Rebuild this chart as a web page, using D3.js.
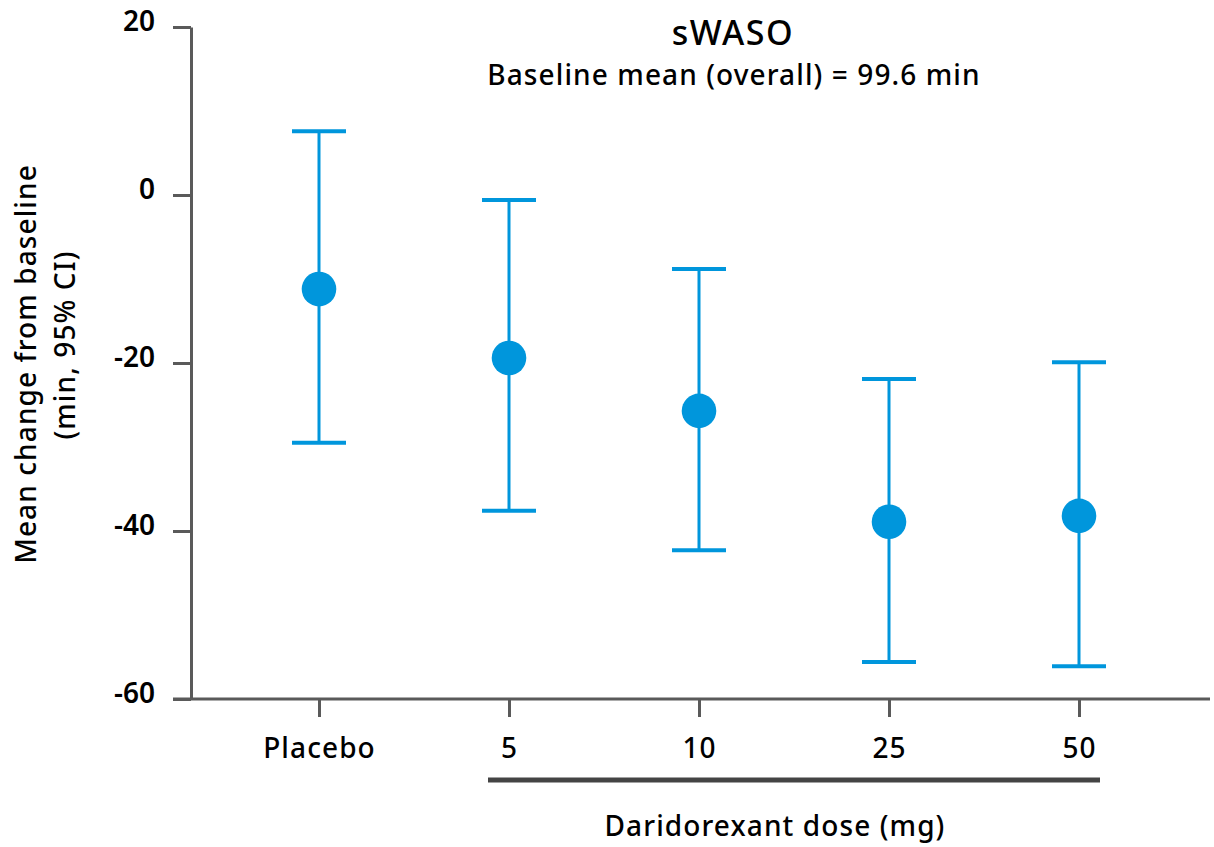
<!DOCTYPE html>
<html>
<head>
<meta charset="utf-8">
<script src="https://cdn.jsdelivr.net/npm/d3@7"></script>
<style>
  body { margin: 0; background: #fff; }
  text { font-family: "Noto Sans", "Open Sans", sans-serif; font-weight: 500; fill: #000; }
</style>
</head>
<body>
<div id="chart"></div>
<script>
const categories = ["Placebo", "5", "10", "25", "50"];
const means = [-11.2, -19.4, -25.7, -38.9, -38.2];
const lower = [-29.5, -37.6, -42.3, -55.6, -56.1];
const upper = [7.6, -0.6, -8.8, -21.9, -19.9];
const yTicks = [20, 0, -20, -40, -60];

const width = 1214, height = 847;
const margin = {top: 27, right: 4, bottom: 147, left: 191};
const blue = "#0096dc", axisGrey = "#5a5a5a";
const fontSize = 28, spacing = "1.1px";

const svg = d3.select("#chart").append("svg")
    .attr("width", width)
    .attr("height", height);

const x = d3.scalePoint()
    .domain(categories)
    .range([319, 1079]);

const y = d3.scaleLinear()
    .domain([-60, 20])
    .range([height - margin.bottom - 1, margin.top]);

// y axis
const yAxis = svg.append("g")
    .attr("transform", `translate(${margin.left},0)`)
    .call(d3.axisLeft(y).tickValues(yTicks).tickFormat(d => String(d))
        .tickSize(18).tickPadding(18).tickSizeOuter(0));
yAxis.select(".domain").attr("stroke", axisGrey).attr("stroke-width", 3);
yAxis.selectAll(".tick line").attr("stroke", axisGrey).attr("stroke-width", 3);
yAxis.selectAll(".tick text")
    .attr("font-family", null)
    .style("font-size", fontSize + "px")
    .style("font-weight", 600)
    .attr("dy", "0.13em");

// x axis
const xAxis = svg.append("g")
    .attr("transform", `translate(0,${y(-60)})`)
    .call(d3.axisBottom(x).tickSize(18).tickPadding(21).tickSizeOuter(0));
xAxis.select(".domain").attr("d", `M${margin.left - 18},0H${width - margin.right}`)
    .attr("stroke", axisGrey).attr("stroke-width", 3);
xAxis.selectAll(".tick line").attr("stroke", axisGrey).attr("stroke-width", 3);
xAxis.selectAll(".tick text")
    .attr("font-family", null)
    .style("font-size", fontSize + "px")
    .style("letter-spacing", spacing);

// bracket under the dose groups
svg.append("line")
    .attr("x1", x("5") - 21).attr("x2", x("50") + 21)
    .attr("y1", 780).attr("y2", 780)
    .attr("stroke", "#444").attr("stroke-width", 5);

svg.append("text")
    .attr("x", 775).attr("y", 836)
    .attr("text-anchor", "middle")
    .style("font-size", fontSize + "px")
    .style("letter-spacing", spacing)
    .text("Daridorexant dose (mg)");

// error bars
const bars = svg.append("g");
categories.forEach((c, i) => {
    const cx = x(c);
    bars.append("line")
        .attr("x1", cx).attr("x2", cx)
        .attr("y1", y(upper[i])).attr("y2", y(lower[i]))
        .attr("stroke", blue).attr("stroke-width", 3);
    [upper[i], lower[i]].forEach(v => {
        bars.append("line")
            .attr("x1", cx - 27).attr("x2", cx + 27)
            .attr("y1", y(v)).attr("y2", y(v))
            .attr("stroke", blue).attr("stroke-width", 4);
    });
    bars.append("circle")
        .attr("cx", cx).attr("cy", y(means[i]))
        .attr("r", 17.3)
        .attr("fill", blue);
});

// titles
svg.append("text")
    .attr("x", 733).attr("y", 45)
    .attr("text-anchor", "middle")
    .style("font-size", "34px")
    .style("letter-spacing", "1.5px")
    .text("sWASO");
svg.append("text")
    .attr("x", 734).attr("y", 85)
    .attr("text-anchor", "middle")
    .style("font-size", fontSize + "px")
    .style("letter-spacing", spacing)
    .text("Baseline mean (overall) = 99.6 min");

// y label
const yl = svg.append("g");
yl.append("text")
    .attr("transform", "translate(36,364) rotate(-90)")
    .attr("text-anchor", "middle")
    .style("font-size", fontSize + "px")
    .style("letter-spacing", spacing)
    .text("Mean change from baseline");
yl.append("text")
    .attr("transform", "translate(75,345) rotate(-90)")
    .attr("text-anchor", "middle")
    .style("font-size", fontSize + "px")
    .style("letter-spacing", spacing)
    .text("(min, 95% CI)");
</script>
</body>
</html>
